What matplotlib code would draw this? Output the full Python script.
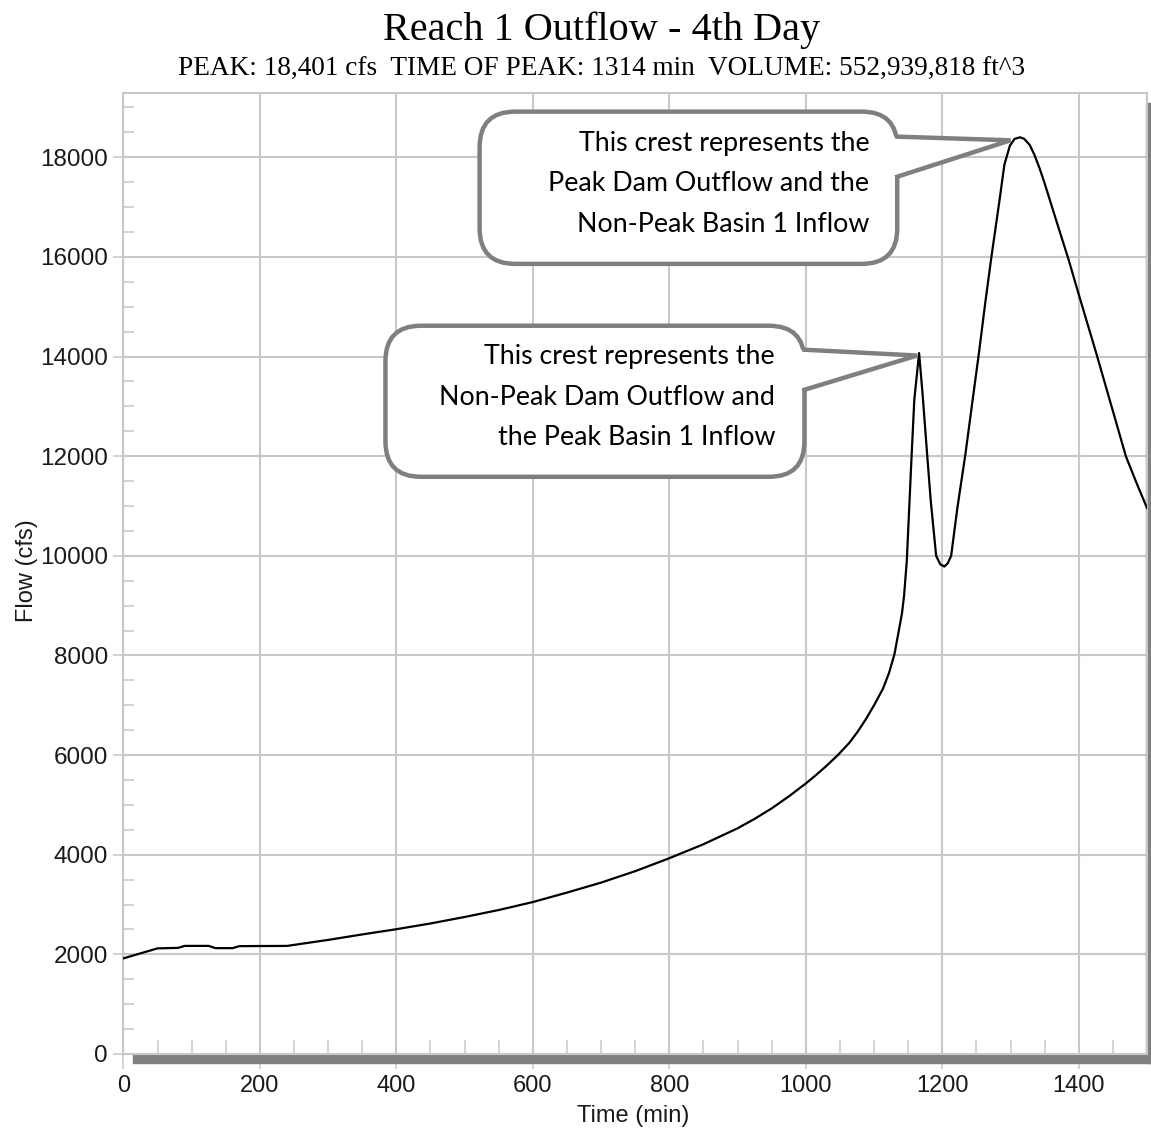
import numpy as np
import matplotlib
matplotlib.use("Agg")
import matplotlib.pyplot as plt
from matplotlib.patches import FancyBboxPatch, Polygon, Rectangle
from matplotlib.ticker import MultipleLocator

# outflow hydrograph, reach 1, day 4
time_min = [0, 10, 20, 30, 40, 50, 80, 90, 125, 135, 160, 170, 240, 300, 350,
            400, 450, 500, 550, 600, 650, 700, 750, 800, 850, 900, 925, 950,
            975, 1000, 1015, 1030, 1047, 1064, 1076, 1088, 1100, 1113, 1122,
            1130, 1137, 1141, 1144, 1148, 1151, 1155, 1159, 1166, 1171, 1178,
            1183, 1191, 1197, 1203, 1208, 1213, 1222, 1234, 1244, 1254, 1263,
            1272, 1284, 1291, 1299, 1306, 1314, 1320, 1328, 1335, 1342, 1349,
            1357, 1370, 1385, 1401, 1426, 1447, 1469, 1485, 1500]
flow_cfs = [1920, 1960, 2000, 2040, 2080, 2120, 2130, 2170, 2170, 2125, 2125,
            2165, 2170, 2290, 2400, 2505, 2620, 2750, 2890, 3050, 3240, 3440,
            3670, 3930, 4210, 4530, 4720, 4930, 5170, 5430, 5600, 5780, 6000,
            6250, 6470, 6720, 7000, 7330, 7650, 8030, 8550, 8850, 9200, 9900,
            10800, 12000, 13130, 14070, 13270, 12000, 11120, 10000, 9830, 9785,
            9850, 10000, 10950, 12050, 13080, 14100, 15080, 16000, 17150,
            17850, 18230, 18370, 18401, 18370, 18250, 18050, 17800, 17520,
            17170, 16600, 15950, 15200, 14050, 13050, 12000, 11450, 10960]

peak_label = "PEAK: 18,401 cfs  TIME OF PEAK: 1314 min  VOLUME: 552,939,818 ft^3"
note_main = "This crest represents the\nPeak Dam Outflow and the\nNon-Peak Basin 1 Inflow"
note_first = "This crest represents the\nNon-Peak Dam Outflow and\nthe Peak Basin 1 Inflow"

W, H = 1151, 1133
fig = plt.figure(figsize=(W / 100, H / 100), dpi=100)
ax = fig.add_axes([123.4 / W, 1 - 1054 / H, 1023.6 / W, 961 / H])

grid_c = "#c8c8c8"
ax.plot(time_min, flow_cfs, color="black", lw=1.6, zorder=3)

ax.set_xlim(0, 1500)
ax.set_ylim(0, 19290)
ax.xaxis.set_major_locator(MultipleLocator(200))
ax.xaxis.set_minor_locator(MultipleLocator(50))
ax.yaxis.set_major_locator(MultipleLocator(2000))
ax.yaxis.set_minor_locator(MultipleLocator(500))
ax.grid(True, which="major", color=grid_c, lw=1.5)

ax.tick_params(axis="x", which="major", direction="out", length=11, width=1.1,
               color=grid_c, pad=4, labelsize=17, labelcolor="#1a1a1a")
ax.tick_params(axis="x", which="minor", direction="in", length=10, width=1.1,
               color=grid_c)
ax.tick_params(axis="y", which="major", direction="out", length=7, width=1.1,
               color=grid_c, pad=4, labelsize=17.5, labelcolor="#1a1a1a")
ax.tick_params(axis="y", which="minor", direction="in", length=8, width=1.1,
               color=grid_c)
for lab in ax.get_xticklabels() + ax.get_yticklabels():
    lab.set_family("Liberation Sans")
for s in ax.spines.values():
    s.set_color(grid_c)
    s.set_linewidth(1.5)

# dark shadow along the bottom and right edges of the plot frame
ax.add_patch(Rectangle((0.0094, -0.0094), 0.995, 0.0094, transform=ax.transAxes,
                       color="#808080", clip_on=False, zorder=2))
ax.add_patch(Rectangle((0.9995, -0.0094), 0.004, 0.9990, transform=ax.transAxes,
                       color="#808080", clip_on=False, zorder=2))

fig.text(602 / W, 1 - 40 / H, "Reach 1 Outflow - 4th Day", ha="center",
         va="baseline", family="Liberation Serif", fontsize=29)
fig.text(602 / W, 1 - 76 / H, peak_label, ha="center", va="baseline",
         family="Liberation Serif", fontsize=19.6)
fig.text(27 / W, 1 - 571 / H, "Flow (cfs)", rotation=90, ha="center",
         va="center", family="Liberation Sans", fontsize=17, color="#1a1a1a")
fig.text(633 / W, 1 - 1116 / H, "Time (min)", ha="center", va="center",
         family="Liberation Sans", fontsize=17, color="#1a1a1a")

# one data unit in x vs y, in pixels, to keep the box corners round
aspect = (1 / 0.0498) / (1 / 0.683)
edge = "#7f7f7f"


def callout(x0, x1, y0, y1, base_hi, base_lo, tip, text, text_x):
    box = FancyBboxPatch((x0, y0), x1 - x0, y1 - y0,
                         boxstyle="round,pad=0,rounding_size=52",
                         mutation_aspect=aspect, fc="white", ec=edge, lw=3.2,
                         zorder=6)
    ax.add_patch(box)
    # white wedge hides the box edge where the pointer joins
    ax.add_patch(Polygon([(x1 - 8, base_hi), tip, (x1 - 8, base_lo)],
                         closed=True, fc="white", ec="none", zorder=7))
    ax.plot([x1, tip[0], x1], [base_hi, tip[1], base_lo], color=edge, lw=3.2,
            solid_joinstyle="miter", zorder=8)
    ax.text(text_x, (y0 + y1) / 2 + 80, text, ha="right", va="center",
            multialignment="right", family="Lato", fontsize=19.3,
            linespacing=1.78, zorder=9)


callout(522, 1134, 15860, 18916, 18414, 17610, (1300, 18340), note_main, 1093)
callout(384, 998, 11586, 14618, 14137, 13333, (1163, 14020), note_first, 955)

fig.savefig("out.png", dpi=100)
